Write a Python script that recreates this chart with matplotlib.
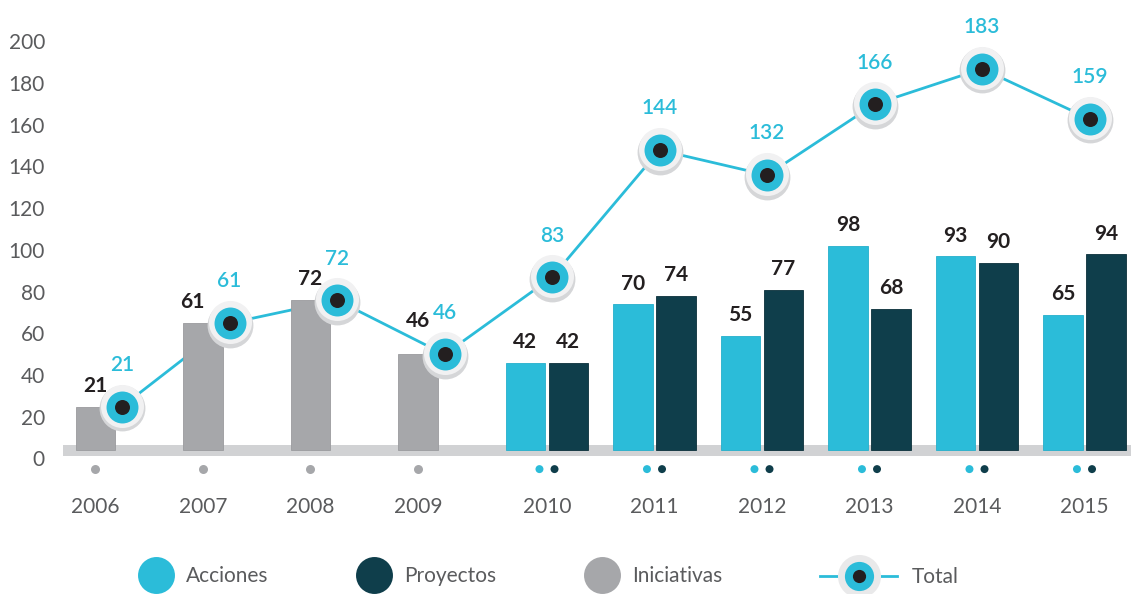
import numpy as np
import matplotlib
matplotlib.use("Agg")
import matplotlib.pyplot as plt
from matplotlib.lines import Line2D
from matplotlib.legend_handler import HandlerTuple
from matplotlib.transforms import offset_copy

# ---------------- data ----------------
years = [2006, 2007, 2008, 2009, 2010, 2011, 2012, 2013, 2014, 2015]
iniciativas = [21, 61, 72, 46, None, None, None, None, None, None]
acciones = [None, None, None, None, 42, 70, 55, 98, 93, 65]
proyectos = [None, None, None, None, 42, 74, 77, 68, 90, 94]
total = [21, 61, 72, 46, 83, 144, 132, 166, 183, 159]
ytick_values = [0, 20, 40, 60, 80, 100, 120, 140, 160, 180, 200]
legend_labels = ["Acciones", "Proyectos", "Iniciativas", "Total"]

# ---------------- style ----------------
C_ACC = "#2bbcd9"
C_PRO = "#0f3e4b"
C_INI = "#a6a7aa"
C_BAND = "#d1d2d4"
C_TXT = "#231f20"
C_GRAY_TXT = "#5a5b5d"
FONT = "Lato"
LIGHT = "normal"
plt.rcParams["font.family"] = [FONT, "DejaVu Sans"]

W, H, DPI = 1131, 594, 100
fig = plt.figure(figsize=(W / DPI, H / DPI), dpi=DPI)
ax = fig.add_axes([63 / W, 0, (W - 63) / W, 1])
ax.set_xlim(-0.5023, 9.4326)
ax.set_ylim(-68.9, 216.0)
for s in ax.spines.values():
    s.set_visible(False)
ax.set_xticks([])

TICK_SHIFT = 3.84  # the tick labels sit slightly below the bar base
ax.set_yticks([t - TICK_SHIFT for t in ytick_values])
ax.set_yticklabels([str(t) for t in ytick_values], fontsize=15,
                   fontweight=LIGHT, color=C_GRAY_TXT)
ax.tick_params(axis="y", length=0, pad=13)

BAR_W = 0.363
OFF = 0.2
MARK_DX = 0.047

x = np.arange(len(years))

# baseline band
ax.axhspan(-2.5, 2.54, color=C_BAND, zorder=1, lw=0)

# total line (behind bars)
ax.plot(x + MARK_DX, total, color=C_ACC, lw=2, zorder=2, solid_capstyle="round")

# bars
label_dx_pts = {1: -8}      # small nudges for crowded labels
label_dy_extra = {3: 9}

for i in range(len(years)):
    if iniciativas[i] is not None:
        ax.bar(x[i] - OFF, iniciativas[i], BAR_W, color=C_INI, edgecolor="#9a9b9e",
               lw=0.6, zorder=3)
        ax.annotate(str(iniciativas[i]), (x[i] - OFF, iniciativas[i]),
                    xytext=(label_dx_pts.get(i, 0), 15 + label_dy_extra.get(i, 0)),
                    textcoords="offset points", ha="center", va="center",
                    fontsize=15, fontweight="bold", color=C_TXT, zorder=6)
        ax.scatter([x[i] - OFF], [-9.0], s=42, color=C_INI, lw=0, zorder=3, clip_on=False)
        ax.text(x[i] - OFF, -27.2, str(years[i]), ha="center", va="center",
                fontsize=15, fontweight=LIGHT, color=C_GRAY_TXT)
    else:
        ax.bar(x[i] - OFF, acciones[i], BAR_W, color=C_ACC, edgecolor="#24afcb",
               lw=0.6, zorder=3)
        ax.bar(x[i] + OFF, proyectos[i], BAR_W, color=C_PRO, edgecolor="#0a2f3a",
               lw=0.6, zorder=3)
        for xv, v in ((x[i] - OFF, acciones[i]), (x[i] + OFF, proyectos[i])):
            ax.annotate(str(v), (xv, v), xytext=(0, 15), textcoords="offset points",
                        ha="center", va="center", fontsize=15, fontweight="bold",
                        color=C_TXT, zorder=6)
        ax.scatter([x[i] - 0.07, x[i] + 0.07], [-9.0, -9.0], s=33,
                   color=[C_ACC, C_PRO], lw=0, zorder=3, clip_on=False)
        ax.text(x[i], -27.2, str(years[i]), ha="center", va="center",
                fontsize=15, fontweight=LIGHT, color=C_GRAY_TXT)

# eye markers for total
tr_down = offset_copy(ax.transData, fig=fig, x=0, y=-1.5, units="dots")
tr_up = offset_copy(ax.transData, fig=fig, x=0, y=1.0, units="dots")
ax.scatter(x + MARK_DX, total, s=33 ** 2, color="#d5d6d8", lw=0, zorder=4, transform=tr_down)
ax.scatter(x + MARK_DX, total, s=31 ** 2, color="#f1f1f2", lw=0, zorder=4, transform=tr_up)
ax.scatter(x + MARK_DX, total, s=23 ** 2, color=C_ACC, lw=0, zorder=4)
ax.scatter(x + MARK_DX, total, s=10.8 ** 2, color=C_TXT, lw=0, zorder=4)
for i, v in enumerate(total):
    ax.annotate(str(v), (x[i] + MARK_DX, v), xytext=(0, 30), textcoords="offset points",
                ha="center", va="center", fontsize=15, fontweight="semibold",
                color=C_ACC, zorder=6)

# legends
prop = {"family": FONT, "weight": LIGHT, "size": 15}
h1 = [Line2D([], [], ls="none", marker="o", ms=26.6, mfc=c, mec="none")
      for c in (C_ACC, C_PRO, C_INI)]
leg1 = fig.legend(h1, legend_labels[:3], loc="center left",
                  bbox_to_anchor=(137 / W, 1 - 576 / H), ncol=3, frameon=False,
                  prop=prop, handlelength=1.78, handletextpad=0.55, columnspacing=4.2,
                  borderpad=0, borderaxespad=0, labelcolor=C_GRAY_TXT)
eye = (Line2D([], [], color=C_ACC, lw=2),
       Line2D([], [], ls="none", marker="o", ms=31, mfc="#e9e9ea", mec="none"),
       Line2D([], [], ls="none", marker="o", ms=21, mfc=C_ACC, mec="none"),
       Line2D([], [], ls="none", marker="o", ms=9.5, mfc=C_TXT, mec="none"))
leg2 = fig.legend([eye], legend_labels[3:], loc="center left",
                  bbox_to_anchor=(820 / W, 1 - 577 / H), frameon=False, prop=prop,
                  handlelength=3.7, handletextpad=0.72, borderpad=0, borderaxespad=0,
                  labelcolor=C_GRAY_TXT, handler_map={tuple: HandlerTuple(ndivide=1)})

fig.savefig("out.png", dpi=DPI)
